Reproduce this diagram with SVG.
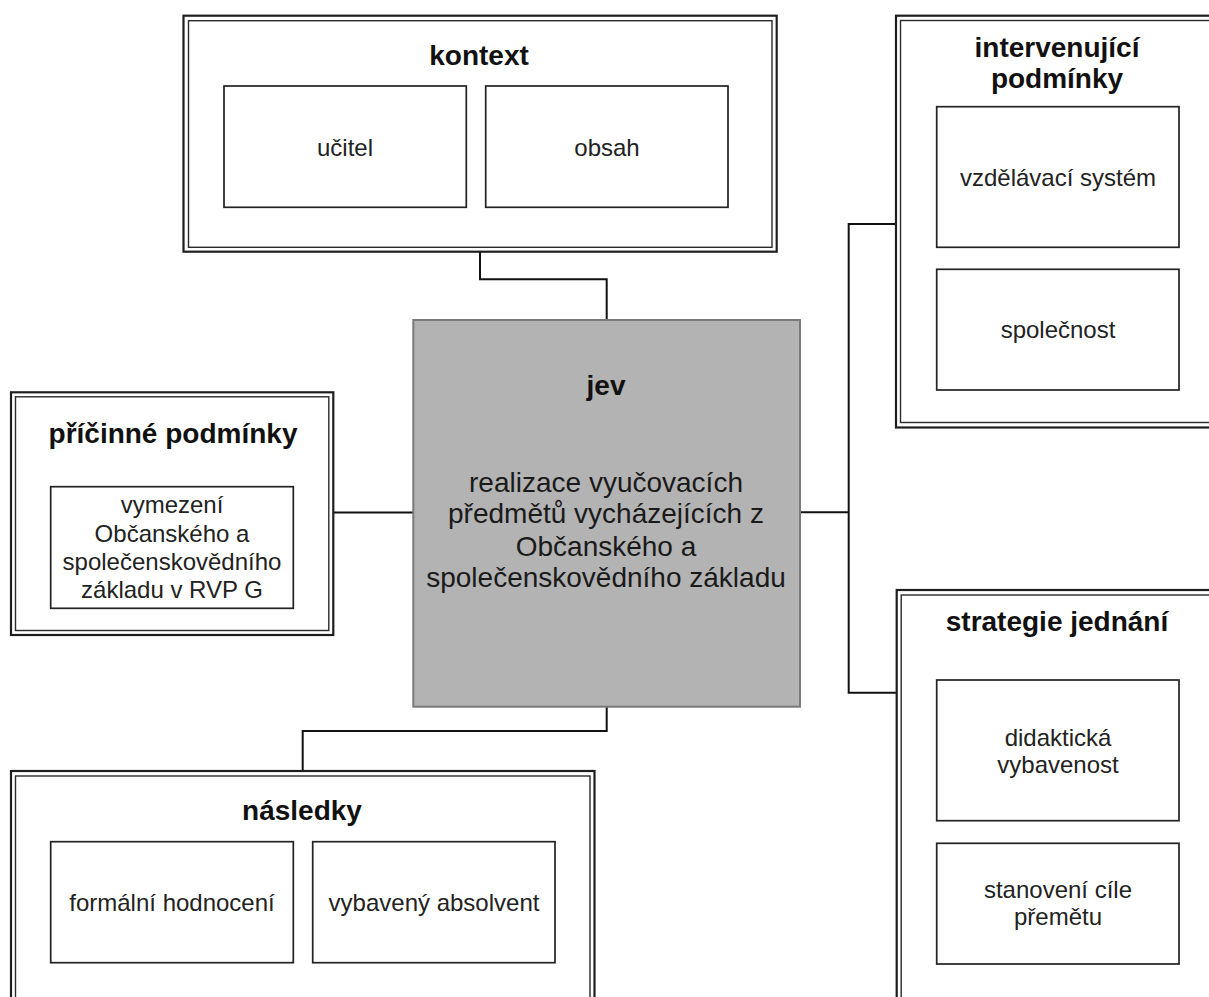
<svg xmlns="http://www.w3.org/2000/svg" width="1209" height="997" viewBox="0 0 1209 997">
<style>
  .bg { fill: #ffffff; }
  .outer { fill: #ffffff; stroke: #1e1e1e; stroke-width: 2.2; }
  .inner { fill: none; stroke: #2a2a2a; stroke-width: 1.4; }
  .box { fill: #ffffff; stroke: #222222; stroke-width: 1.7; }
  .jev { fill: #b3b3b3; stroke: #7a7a7a; stroke-width: 2; }
  .conn { fill: none; stroke: #111111; stroke-width: 2; }
  .title { font-family: "Liberation Sans", Arial, sans-serif; font-weight: bold; font-size: 28px; fill: #111111; text-anchor: middle; }
  .body { font-family: "Liberation Sans", Arial, sans-serif; font-size: 24px; fill: #222222; text-anchor: middle; }
  .jevbody { font-family: "Liberation Sans", Arial, sans-serif; font-size: 28px; fill: #1a1a1a; text-anchor: middle; }
</style>
<rect class="bg" x="0" y="0" width="1209" height="997"/>

<g id="connectors">
  <path class="conn" d="M480,251.7 V279.3 H606.7 V320"/>
  <path class="conn" d="M333.3,512.5 H413.3"/>
  <path class="conn" d="M800,512.3 H848.7"/>
  <path class="conn" d="M896,224 H848.7 V692.7 H896.7"/>
  <path class="conn" d="M606.7,706.7 V731 H302.7 V771"/>
</g>

<g id="kontext">
  <rect class="outer" x="183.5" y="15.7" width="593.2" height="236"/>
  <rect class="inner" x="188.5" y="20.7" width="583.5" height="226.6"/>
  <text class="title" x="479" y="65">kontext</text>
  <g id="ucitel">
    <rect class="box" x="224" y="86" width="242.3" height="121.3"/>
    <text class="body" x="345" y="155.5">učitel</text>
  </g>
  <g id="obsah">
    <rect class="box" x="485.7" y="86" width="242.3" height="121.3"/>
    <text class="body" x="607" y="155.5">obsah</text>
  </g>
</g>

<g id="intervenujici">
  <rect class="outer" x="896" y="15.7" width="330" height="411.8"/>
  <rect class="inner" x="900.5" y="20.5" width="321" height="402"/>
  <text class="title" x="1057" y="57">intervenující</text>
  <text class="title" x="1057" y="87.5">podmínky</text>
  <g id="vzdelavaci-system">
    <rect class="box" x="936.7" y="106.7" width="242.3" height="140.6"/>
    <text class="body" x="1058" y="185.5">vzdělávací systém</text>
  </g>
  <g id="spolecnost">
    <rect class="box" x="936.7" y="269.3" width="242.3" height="120.7"/>
    <text class="body" x="1058" y="338.3">společnost</text>
  </g>
</g>

<g id="pricinne">
  <rect class="outer" x="11" y="392.3" width="322.3" height="242.7"/>
  <rect class="inner" x="15.5" y="396.8" width="313.3" height="233.7"/>
  <text class="title" x="173" y="443.3">příčinné podmínky</text>
  <g id="vymezeni">
    <rect class="box" x="50.7" y="486.7" width="242.6" height="121.6"/>
    <text class="body" x="172" y="513.3">vymezení</text>
    <text class="body" x="172" y="541.7">Občanského a</text>
    <text class="body" x="172" y="570">společenskovědního</text>
    <text class="body" x="172" y="598">základu v RVP G</text>
  </g>
</g>

<g id="jev">
  <rect class="jev" x="413.3" y="320" width="386.7" height="386.7"/>
  <text class="title" x="606" y="395">jev</text>
  <text class="jevbody" x="606" y="491.7">realizace vyučovacích</text>
  <text class="jevbody" x="606" y="523.3">předmětů vycházejících z</text>
  <text class="jevbody" x="606" y="555.5">Občanského a</text>
  <text class="jevbody" x="606" y="587.3">společenskovědního základu</text>
</g>

<g id="strategie">
  <rect class="outer" x="896.7" y="590" width="330" height="420"/>
  <rect class="inner" x="901.2" y="595" width="321" height="410"/>
  <text class="title" x="1057" y="630.7">strategie jednání</text>
  <g id="didakticka">
    <rect class="box" x="936.7" y="680" width="242.3" height="140.7"/>
    <text class="body" x="1058" y="745.7">didaktická</text>
    <text class="body" x="1058" y="772.7">vybavenost</text>
  </g>
  <g id="stanoveni">
    <rect class="box" x="936.7" y="843.3" width="242.3" height="120.7"/>
    <text class="body" x="1058" y="898.3">stanovení cíle</text>
    <text class="body" x="1058" y="925">přemětu</text>
  </g>
</g>

<g id="nasledky">
  <rect class="outer" x="11" y="771" width="583.5" height="240"/>
  <rect class="inner" x="15.5" y="776" width="574.5" height="230"/>
  <text class="title" x="302" y="820">následky</text>
  <g id="formalni">
    <rect class="box" x="50.7" y="841.7" width="242.6" height="121"/>
    <text class="body" x="172" y="911">formální hodnocení</text>
  </g>
  <g id="vybaveny">
    <rect class="box" x="312.7" y="841.7" width="242.3" height="121"/>
    <text class="body" x="434" y="911">vybavený absolvent</text>
  </g>
</g>
</svg>
